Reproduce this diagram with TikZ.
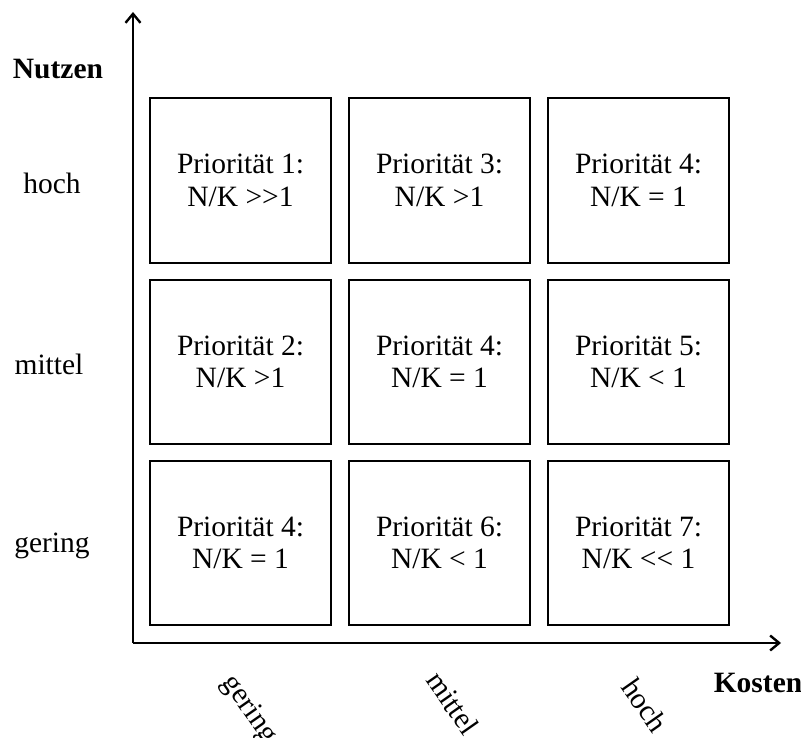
\documentclass[tikz,border=0pt]{standalone}
\usepackage{fontspec}
\setmainfont{Liberation Serif}
\usetikzlibrary{arrows.meta}
\begin{document}
\begin{tikzpicture}[x=1pt,y=-1pt,
  lbl/.style={font=\fontsize{29.5}{32}\selectfont, inner sep=0pt},
  cell/.style={draw, line width=2.4pt, minimum width=181pt, minimum height=164pt,
    align=center, font=\fontsize{29.5}{32.5}\selectfont, inner sep=0pt},
  axis/.style={line width=2.2pt, -{Straight Barb[length=9pt,width=15pt,line width=2.4pt]}},
  title/.style={font=\fontsize{29.5}{32}\selectfont\bfseries, inner sep=0pt},
  tick/.style={lbl, rotate=-55}]
\useasboundingbox (0,0) rectangle (801,738);

% axes
\coordinate (o) at (133,643);
\coordinate (ytop) at (133,12);
\coordinate (xend) at (781,643);
\draw[axis] (o) -- (ytop);
\draw[axis] (o) -- (xend);

% axis titles
\node[title] (nutzen) at (58,69) {Nutzen};
\node[title] (kosten) at (758,683) {Kosten};

% benefit levels
\node[lbl] (yh) at (52,183) {hoch};
\node[lbl] (ym) at (49,364) {mittel};
\node[lbl] (yg) at (52,546) {gering};

% cost levels
\node[tick] (xg) at (249,710) {gering};
\node[tick] (xm) at (453,703) {mittel};
\node[tick] (xh) at (645,705) {hoch};

% priority matrix
\node[cell, minimum height=165pt] (c11) at (240.5,180.5) {Priorität 1:\\N/K {>}{>}1};
\node[cell, minimum height=165pt] (c12) at (439.5,180.5) {Priorität 3:\\N/K >1};
\node[cell, minimum height=165pt] (c13) at (638.5,180.5) {Priorität 4:\\N/K = 1};
\node[cell] (c21) at (240.5,362) {Priorität 2:\\N/K >1};
\node[cell] (c22) at (439.5,362) {Priorität 4:\\N/K = 1};
\node[cell] (c23) at (638.5,362) {Priorität 5:\\N/K < 1};
\node[cell] (c31) at (240.5,543) {Priorität 4:\\N/K = 1};
\node[cell] (c32) at (439.5,543) {Priorität 6:\\N/K < 1};
\node[cell] (c33) at (638.5,543) {Priorität 7:\\N/K {<}{<} 1};
\end{tikzpicture}
\end{document}
